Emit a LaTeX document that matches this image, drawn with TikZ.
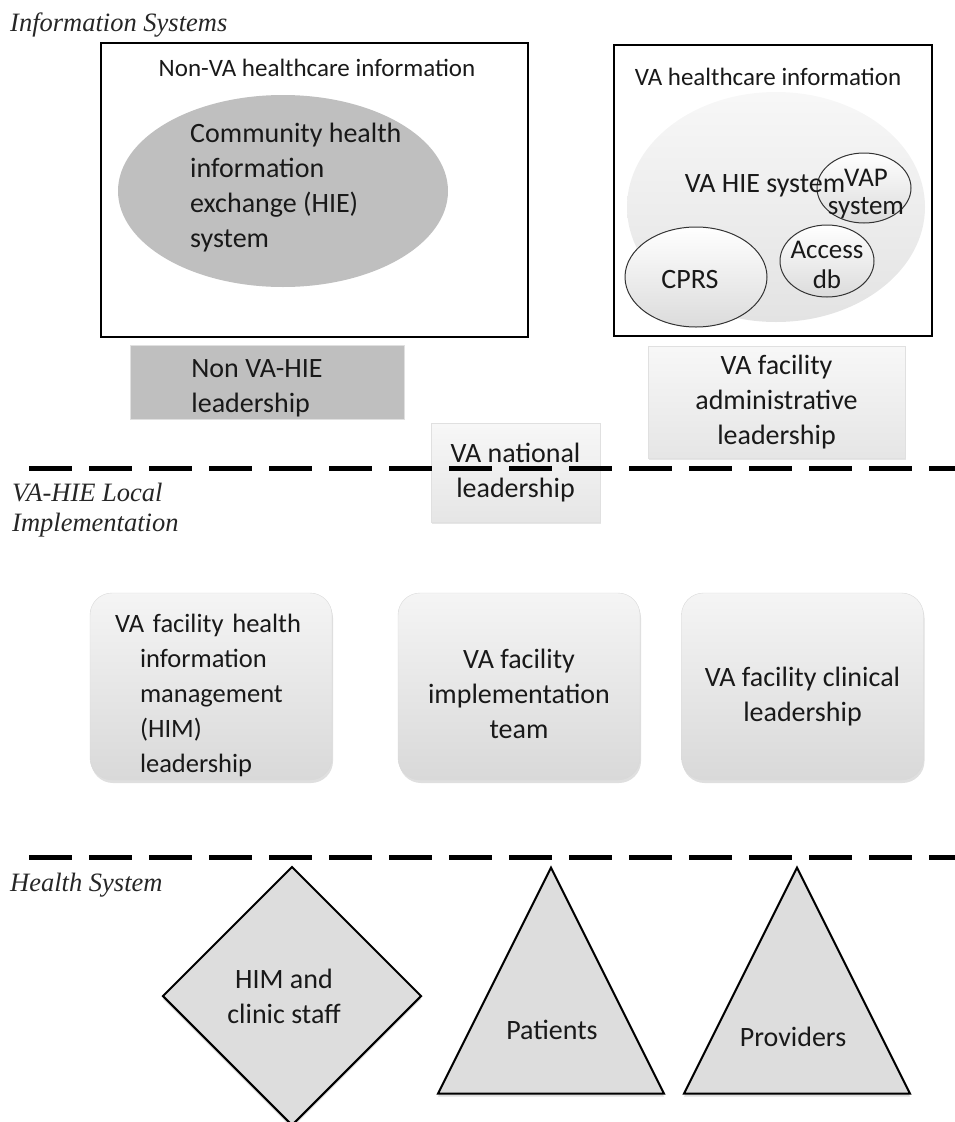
\documentclass[tikz,border=0pt]{standalone}
\usepackage{fontspec}
\setmainfont{Carlito}
\newfontfamily\layerfont{Liberation Serif}
\usepackage{xcolor}
\usetikzlibrary{shapes.geometric,shadows}

\definecolor{darkfill}{HTML}{BFBFBF}
\definecolor{shapefill}{HTML}{DDDDDD}

% pushes the first line of a box text a bit down
\newcommand{\lowerby}[1]{\rule{0pt}{#1}}

\tikzset{
    layer/.style={font=\layerfont\itshape\fontsize{26.5}{30}\selectfont, anchor=west, align=left, inner sep=0, text=black!85},
    head/.style={font=\fontsize{25}{31}\selectfont, inner sep=0, text=black!90},
    txt/.style={font=\fontsize{28}{35}\selectfont, align=center, inner sep=0, text=black!90},
    sysbox/.style={draw=black, line width=2pt, inner sep=0},
    bigell/.style={ellipse, inner sep=0},
    smallell/.style={ellipse, inner sep=0, draw=black!80, line width=1pt, top color=white, bottom color=black!14},
    darkbox/.style={txt, fill=darkfill, draw=black!12},
    lightbox/.style={txt, top color=black!3, bottom color=black!10, draw=black!12, drop shadow={opacity=0.2, shadow xshift=1pt, shadow yshift=-2pt}},
    roundbox/.style={txt, rounded corners=22pt, minimum width=242, minimum height=187, top color=black!4, bottom color=black!15, draw=black!15, drop shadow={opacity=0.25, shadow xshift=1pt, shadow yshift=-3pt}},
    dashline/.style={line width=5pt, dash pattern=on 43pt off 17pt},
    groupshape/.style={fill=shapefill, draw=black, line width=2pt, inner sep=0, drop shadow={opacity=0.25, shadow xshift=0pt, shadow yshift=-3pt}}
}

\begin{document}
\begin{tikzpicture}[x=1pt, y=-1pt]
    \useasboundingbox (0,0) rectangle (955,1122);

    % Information systems layer
    \node[layer] (infosys) at (10,25) {Information Systems};

    \node[sysbox, minimum width=427, minimum height=294] (nonvabox) at (314.5,190) {};
    \node[head] (nonvahead) at (317,68) {Non-VA healthcare information};
    \node[bigell, fill=darkfill, minimum width=330, minimum height=192] (chie) at (283,191) {};
    \node[txt, align=left, anchor=west] (chietext) at (190,187.5) {Community health\\information\\exchange (HIE)\\system};

    \node[sysbox, minimum width=318, minimum height=291] (vabox) at (773,190.5) {};
    \node[head] (vahead) at (768,77) {VA healthcare information};
    \node[bigell, top color=black!3, bottom color=black!11, minimum width=298, minimum height=230] (vahie) at (776,207) {};
    \node[smallell, minimum width=94, minimum height=70] (vap) at (864,188) {};
    \node[txt] (vahietext) at (765,186) {VA HIE system};
    \node[txt, font=\fontsize{27}{28}\selectfont] (vaptext) at (866,194) {VAP\\system};
    \node[smallell, minimum width=94, minimum height=72] (access) at (827,261) {};
    \node[txt, font=\fontsize{27}{30}\selectfont] (accesstext) at (827,265) {Access\\db};
    \node[smallell, minimum width=142, minimum height=100] (cprs) at (696,277) {};
    \node[txt] (cprstext) at (690,280) {CPRS};

    % Leadership
    \node[darkbox, align=left, minimum width=274, minimum height=74] (nonvalead) at (267,382) {\lowerby{31pt}Non VA-HIE\hspace*{20pt}\\leadership};
    \node[lightbox, minimum width=257, minimum height=112] (adminlead) at (776.5,402) {VA facility\\administrative\\leadership};
    \node[lightbox, minimum width=169, minimum height=99] (natlead) at (515.5,472.5) {VA national\\leadership};

    % Layer borders
    \coordinate (upperstart) at (29,468);
    \coordinate (upperend) at (955,468);
    \draw[dashline] (upperstart) -- (upperend);
    \coordinate (lowerstart) at (29,857);
    \coordinate (lowerend) at (955,857);
    \draw[dashline] (lowerstart) -- (lowerend);

    % Local implementation layer
    \node[layer] (localimpl) at (12,510) {VA-HIE Local\\Implementation};

    \node[roundbox, align=left, text width=142, font=\fontsize{26.5}{35}\selectfont] (himlead) at (211,686.5) {\lowerby{37pt}\hspace*{-25pt}\mbox{VA facility health}\\information\\management\\(HIM)\\leadership};
    \node[roundbox] (implteam) at (519,686.5) {\lowerby{35pt}VA facility\\implementation\\team};
    \node[roundbox] (clinlead) at (802.5,686.5) {\lowerby{39pt}VA facility clinical\\leadership};

    % Health system layer
    \node[layer] (healthsys) at (10,885) {Health System};

    \node[groupshape, diamond, minimum width=259, minimum height=259] (staff) at (292,996) {};
    \node[txt] (stafftext) at (284,996) {HIM and\\clinic staff};
    \node[groupshape, isosceles triangle, isosceles triangle stretches, shape border rotate=90, minimum width=226, minimum height=226, anchor=apex] (patients) at (551,865) {};
    \node[txt] (patientstext) at (552,1030) {Patients};
    \node[groupshape, isosceles triangle, isosceles triangle stretches, shape border rotate=90, minimum width=226, minimum height=226, anchor=apex] (providers) at (797,865) {};
    \node[txt] (providerstext) at (793,1037) {Providers};
\end{tikzpicture}
\end{document}
